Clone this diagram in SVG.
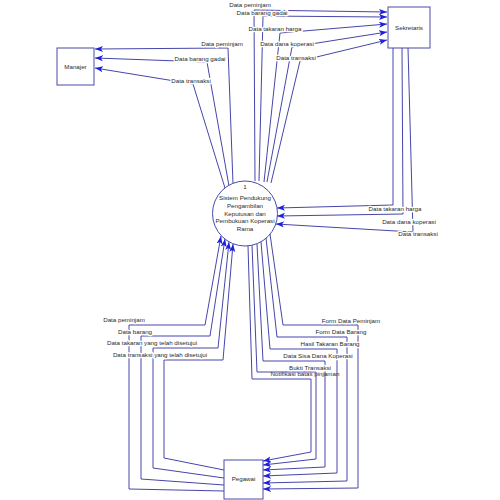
<svg xmlns="http://www.w3.org/2000/svg" width="500" height="500" viewBox="0 0 500 500">
<style>
.f{fill:none;stroke:#4646aa;stroke-width:1}
.box{fill:#fff;stroke:#4a4aa8;stroke-width:1}
text{font-family:"Liberation Sans",Arial,sans-serif;font-size:6.2px;fill:#2a2a2a;text-anchor:middle}
.l{stroke:#fff;stroke-width:2.6px;paint-order:stroke;stroke-linejoin:round}
</style>
<defs>
<marker id="a" markerUnits="userSpaceOnUse" markerWidth="10" markerHeight="8" refX="8" refY="3" orient="auto">
<path d="M0,0 L8,3 L0,6 L2,3 z" fill="#1f1fe0"/>
</marker>
</defs>
<rect width="500" height="500" fill="#fff"/>
<g id="connectors">
<polyline class="f" marker-end="url(#a)" points="255,181 254,10 387,12"/>
<polyline class="f" marker-end="url(#a)" points="259,181 263,16 387,17"/>
<polyline class="f" marker-end="url(#a)" points="264,182 280,33 387,24"/>
<polyline class="f" marker-end="url(#a)" points="267,182 292,47 387,32"/>
<polyline class="f" marker-end="url(#a)" points="271,183 300,61 387,40"/>
<polyline class="f" marker-end="url(#a)" points="233,184 228,48 95,49"/>
<polyline class="f" marker-end="url(#a)" points="229,186 207,62 95,58"/>
<polyline class="f" marker-end="url(#a)" points="225,188 193,84 95,68"/>
<polyline class="f" marker-end="url(#a)" points="393,48 393,205 277,208"/>
<polyline class="f" marker-end="url(#a)" points="402,48 403,214 277,216"/>
<polyline class="f" marker-end="url(#a)" points="408,48 413,232 276,224"/>
<polyline class="f" marker-end="url(#a)" points="224,491 129,489 129,325 205,325 221,236"/>
<polyline class="f" marker-end="url(#a)" points="224,485 141,479 141,336 210,336 225,239"/>
<polyline class="f" marker-end="url(#a)" points="224,478 153,468 153,348 218,348 229,242"/>
<polyline class="f" marker-end="url(#a)" points="224,470 164,458 164,360 223,360 233,244"/>
<polyline class="f" marker-end="url(#a)" points="270,234 283,325 358,325 358,488 263,489"/>
<polyline class="f" marker-end="url(#a)" points="266,238 277,337 347,337 347,481 263,483"/>
<polyline class="f" marker-end="url(#a)" points="261,242 270,349 337,349 337,473 263,476"/>
<polyline class="f" marker-end="url(#a)" points="257,244 263,361 325,361 325,467 263,470"/>
<polyline class="f" marker-end="url(#a)" points="248,246 252,379 311,379 311,452 263,461"/>
</g>
<g id="labels">
<text x="305" y="376">Notifikasi batas pinjaman</text>
<polyline class="f" marker-end="url(#a)" points="252,245 257,372 316,372 316,459 263,465"/>
<text class="l" x="250" y="7">Data peminjam</text>
<text class="l" x="262" y="15">Data barang gadai</text>
<text class="l" x="275" y="31">Data takaran harga</text>
<text class="l" x="287" y="46">Data dana koperasi</text>
<text class="l" x="296" y="60">Data transaksi</text>
<text class="l" x="222" y="46">Data peminjam</text>
<text class="l" x="200" y="61">Data barang gadai</text>
<text class="l" x="191" y="83">Data transaksi</text>
<text class="l" x="395" y="211">Data takaran harga</text>
<text class="l" x="409" y="224">Data dana koperasi</text>
<text class="l" x="418" y="236">Data transaksi</text>
<text class="l" x="124" y="322">Data peminjam</text>
<text class="l" x="135" y="334">Data barang</text>
<text class="l" x="152" y="345">Data takaran yang telah disetujui</text>
<text class="l" x="160" y="357">Data transaksi yang telah disetujui</text>
<text class="l" x="351" y="323">Form Data Peminjam</text>
<text class="l" x="341" y="334">Form Data Barang</text>
<text class="l" x="330" y="346">Hasil Takaran Barang</text>
<text class="l" x="318" y="358">Data Sisa Dana Koperasi</text>
<text class="l" x="310" y="370">Bukti Transaksi</text>
</g>
<g id="process">
<circle cx="245" cy="213.5" r="32.5" fill="#fff" stroke="#4a4aa8"/>
<text x="245" y="189">1</text>
<text x="245" y="200">Sistem Pendukung</text>
<text x="245" y="208">Pengambilan</text>
<text x="245" y="215.5">Keputusan dan</text>
<text x="245" y="223">Pembukuan Koperasi</text>
<text x="245" y="231">Rama</text>
</g>
<g id="manajer">
<rect class="box" x="57" y="48" width="37" height="37"/>
<text x="75.5" y="69">Manajer</text>
</g>
<g id="sekretaris">
<rect class="box" x="388" y="7" width="42" height="41"/>
<text x="409" y="30">Sekretaris</text>
</g>
<g id="pegawai">
<rect class="box" x="224" y="460" width="39" height="39"/>
<text x="243.5" y="481">Pegawai</text>
</g>
</svg>
